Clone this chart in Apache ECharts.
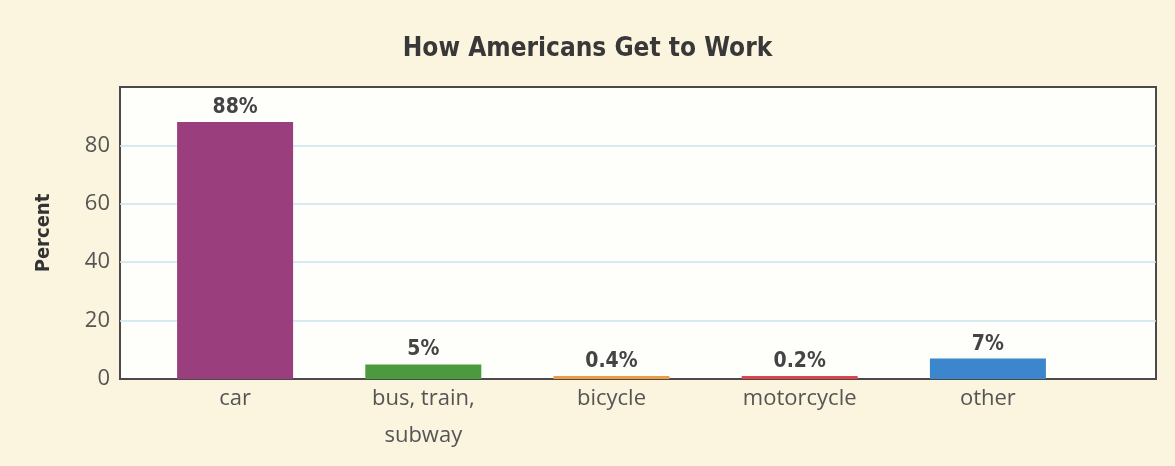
<!DOCTYPE html>
<html><head><meta charset="utf-8">
<script src="https://cdn.jsdelivr.net/npm/echarts@6/dist/echarts.min.js"></script>
<style>html,body{margin:0;padding:0;background:#fbf4de;}#c{width:1175px;height:466px;}</style>
</head><body><div id="c"></div>
<script>
const title = 'How Americans Get to Work';
const categories = ['car', 'bus, train,\nsubway', 'bicycle', 'motorcycle', 'other'];
const values = [88, 5, 0.4, 0.2, 7];
const barColors = ['#9a3e7e', '#4c9a3f', '#eb9c45', '#d8464c', '#3b86cc'];
const yTicks = [0, 20, 40, 60, 80, 100];
const yName = 'Percent';

const condensed = "'Liberation Sans Narrow','DejaVu Sans Condensed',sans-serif";
const body = "'Open Sans','Noto Sans',sans-serif";

const chart = echarts.init(document.getElementById('c'), null, {renderer: 'canvas'});
chart.setOption({
  backgroundColor: '#fbf4de',
  animation: false,
  title: {
    text: title, left: 'center', top: 31,
    textStyle: {fontFamily: condensed, fontWeight: 'bold', fontSize: 26, color: '#383838'}
  },
  grid: [
    {left: 120, right: 19, top: 87, bottom: 87, show: true, backgroundColor: '#fefefb',
     borderColor: '#4a4a4a', borderWidth: 2, z: 0},
    {left: 141, right: 93, top: 87, bottom: 87}
  ],
  xAxis: [
    {type: 'category', gridIndex: 0, data: [''], show: false},
    {type: 'category', gridIndex: 1, data: categories,
     axisLine: {show: false}, axisTick: {show: false},
     axisLabel: {fontFamily: body, fontSize: 22, color: '#555', margin: 1, lineHeight: 37, interval: 0}}
  ],
  yAxis: [
    {type: 'value', gridIndex: 0, min: yTicks[0], max: yTicks[yTicks.length - 1], interval: 20,
     name: yName, nameLocation: 'middle', nameGap: 66,
     nameTextStyle: {fontFamily: condensed, fontWeight: 'bold', fontSize: 20, color: '#333'},
     axisLine: {show: false}, axisTick: {show: false},
     axisLabel: {fontFamily: body, fontSize: 22, color: '#555', margin: 10,
       formatter: v => v === 100 ? '' : String(v)},
     splitLine: {showMinLine: false, showMaxLine: false, lineStyle: {color: '#c9e5ee', width: 1.5}}},
    {type: 'value', gridIndex: 1, min: 0, max: 100, interval: 20, show: false, splitLine: {show: false}}
  ],
  series: [{
    type: 'bar', xAxisIndex: 1, yAxisIndex: 1,
    data: values.map((v, i) => ({value: v, itemStyle: {color: barColors[i]}})),
    barWidth: 116, barMinHeight: 3,
    label: {show: true, position: 'top', distance: 4, formatter: '{c}%',
      fontFamily: condensed, fontWeight: 'bold', fontSize: 21, color: '#444'}
  }]
});
</script></body></html>
